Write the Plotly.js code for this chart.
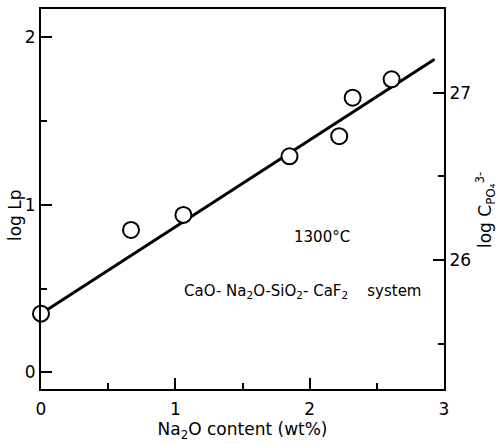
<!DOCTYPE html>
<html>
<head>
<meta charset="utf-8">
<script src="https://cdn.plot.ly/plotly-3.0.1.min.js"></script>
<style>html,body{margin:0;padding:0;background:#fff;}#chart{width:499px;height:444px;}</style>
</head>
<body>
<div id="chart"></div>
<script>
// Measured data (Na2O wt%, log Lp)
const na2o = [0, 0.67, 1.06, 1.85, 2.22, 2.32, 2.61];
const logLp = [0.35, 0.85, 0.94, 1.29, 1.41, 1.64, 1.75];
// Fitted line endpoints
const fitX = [0, 2.93];
const fitY = [0.35, 1.87];
// Axis ticks
const xTicks = [0, 1, 2, 3];
const yTicks = [0, 1, 2];
const y2Ticks = [26, 27];
const tempLabel = '1300°C';
const systemLabel = 'CaO-\u00a0Na<sub>2</sub>O-SiO<sub>2</sub>-\u00a0CaF<sub>2</sub>\u00a0\u00a0\u00a0\u00a0system';
const yTitle = 'log Lp';
const y2Title = 'log C<sub>PO₄</sub><sup>3-</sup>';

const font = {family: 'DejaVu Sans, Liberation Sans, Arial, sans-serif', color: '#000'};
const f = s => Object.assign({size: s}, font);

const traces = [
  {x: fitX, y: fitY, mode: 'lines', line: {color: '#000', width: 3}, hoverinfo: 'skip', showlegend: false, cliponaxis: false},
  {x: na2o, y: logLp, mode: 'markers', cliponaxis: false, showlegend: false,
   marker: {symbol: 'circle', size: 16, color: '#fff', line: {color: '#000', width: 2}}},
  // empty trace that attaches the right-hand axis
  {x: [], y: [], yaxis: 'y2', mode: 'markers', showlegend: false, hoverinfo: 'skip'}
];

const axBase = {
  showgrid: false, zeroline: false, showline: true, linecolor: '#000', linewidth: 2,
  ticks: 'inside', tickcolor: '#000', tickwidth: 2, ticklen: 11,
  tickfont: f(17)
};
const minorTicks = {dtick: 0.5, tick0: 0, ticks: 'inside', ticklen: 6, tickwidth: 2, tickcolor: '#000', showgrid: false};

const layout = {
  width: 499, height: 444,
  margin: {l: 41, r: 55, t: 9, b: 55},
  paper_bgcolor: '#fff', plot_bgcolor: '#fff',
  showlegend: false,
  font: font,
  xaxis: Object.assign({}, axBase, {
    range: [0, 3], tickvals: xTicks, ticktext: xTicks.map(String), mirror: true,
    ticklabelstandoff: 4,
    minor: minorTicks,
    title: {text: 'Na<sub>2</sub>O content (wt%)', font: f(17), standoff: 4}
  }),
  yaxis: Object.assign({}, axBase, {
    range: [-0.1, 2.17], tickvals: yTicks, ticktext: yTicks.map(String),
    minor: minorTicks
  }),
  yaxis2: Object.assign({}, axBase, {
    overlaying: 'y', side: 'right', anchor: 'x',
    range: [25.23, 27.50], tickvals: y2Ticks, ticktext: y2Ticks.map(String),
    minor: minorTicks
  }),
  annotations: [
    {x: 2.09, y: 0.81, xref: 'x', yref: 'y', text: tempLabel, showarrow: false, font: f(15)},
    {x: 1.95, y: 0.48, xref: 'x', yref: 'y', text: systemLabel, showarrow: false, font: f(15)},
    {x: 15, y: 215, xref: 'paper', yref: 'paper', text: yTitle, showarrow: false, textangle: -90, font: f(17),
     xanchor: 'center', yanchor: 'middle'},
    {x: 485, y: 210, xref: 'paper', yref: 'paper', text: y2Title, showarrow: false, textangle: -90, font: f(17),
     xanchor: 'center', yanchor: 'middle'}
  ]
};
// convert pixel positions of the two side titles into paper coordinates
const pw = 499 - 41 - 55, ph = 444 - 9 - 55;
layout.annotations.slice(2).forEach(a => {
  a.x = (a.x - 41) / pw;
  a.y = (444 - 55 - a.y) / ph;
});

Plotly.newPlot('chart', traces, layout, {displayModeBar: false, staticPlot: true});
</script>
</body>
</html>
